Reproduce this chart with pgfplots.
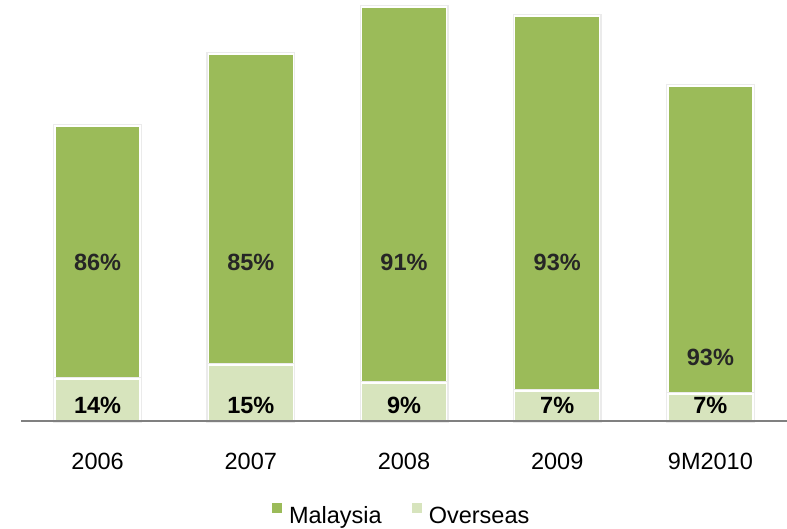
\documentclass[border=0pt]{standalone}
\usepackage{fontspec}
\setmainfont{Liberation Sans}
\usepackage{pgfplots}
\pgfplotsset{compat=1.18}
\definecolor{malay}{HTML}{9BBB59}
\definecolor{overseas}{HTML}{D7E4BD}
\definecolor{labgrey}{HTML}{262626}
\begin{document}
\begin{tikzpicture}[font=\fontsize{23.5}{28}\selectfont]
\useasboundingbox (0,0) rectangle (787pt,529pt);
\begin{axis}[
    at={(21pt,108pt)}, anchor=south west,
    scale only axis, width=766pt, height=421pt,
    ybar stacked, bar width=85pt,
    xmin=-0.5, xmax=4.5, ymin=0, ymax=421,
    axis y line=none, axis x line=bottom,
    axis line style={-, draw=gray, line width=1.3pt},
    axis on top,
    xtick={0,...,4}, xticklabels={2006,2007,2008,2009,9M2010},
    major tick length=0pt,
    xticklabel style={anchor=base, yshift=-49pt},
    clip=false,
    every axis plot/.append style={draw=white, line width=1.5pt},
    legend style={at={(0.497,-0.223)}, anchor=center, draw=none,
        legend columns=2,
        /tikz/every even column/.append style={column sep=28pt}},
    legend image code/.code={\fill[#1] (0pt,3pt) rectangle (10pt,13pt); \path (15pt,8pt);},
]
% overseas at the bottom, Malaysia stacked on top (heights in chart units)
\addplot[fill=overseas, forget plot, preaction={draw=black!8, line width=4pt}]
    coordinates {(0,42) (1,56) (2,38) (3,30) (4,27)};
\addplot[fill=malay, forget plot, preaction={draw=black!8, line width=4pt}]
    coordinates {(0,253) (1,311) (2,376) (3,375) (4,308)};

\addlegendimage{fill=malay, draw=none}
\addlegendentry{Malaysia}
\addlegendimage{fill=overseas, draw=none}
\addlegendentry{Overseas}

% label anchors, drawn after the axis
\coordinate (m0) at (axis cs:0,159);
\coordinate (m1) at (axis cs:1,159);
\coordinate (m2) at (axis cs:2,159);
\coordinate (m3) at (axis cs:3,159);
\coordinate (m4) at (axis cs:4,64);
\coordinate (o0) at (axis cs:0,16);
\coordinate (o1) at (axis cs:1,16);
\coordinate (o2) at (axis cs:2,16);
\coordinate (o3) at (axis cs:3,16);
\coordinate (o4) at (axis cs:4,16);
\end{axis}
\foreach \n/\t in {m0/86, m1/85, m2/91, m3/93, m4/93}
    \node[font=\fontsize{23.5}{28}\selectfont\bfseries, text=labgrey] at (\n) {\t\%};
\foreach \n/\t in {o0/14, o1/15, o2/9, o3/7, o4/7}
    \node[font=\fontsize{23.5}{28}\selectfont\bfseries, text=black] at (\n) {\t\%};
\end{tikzpicture}
\end{document}
